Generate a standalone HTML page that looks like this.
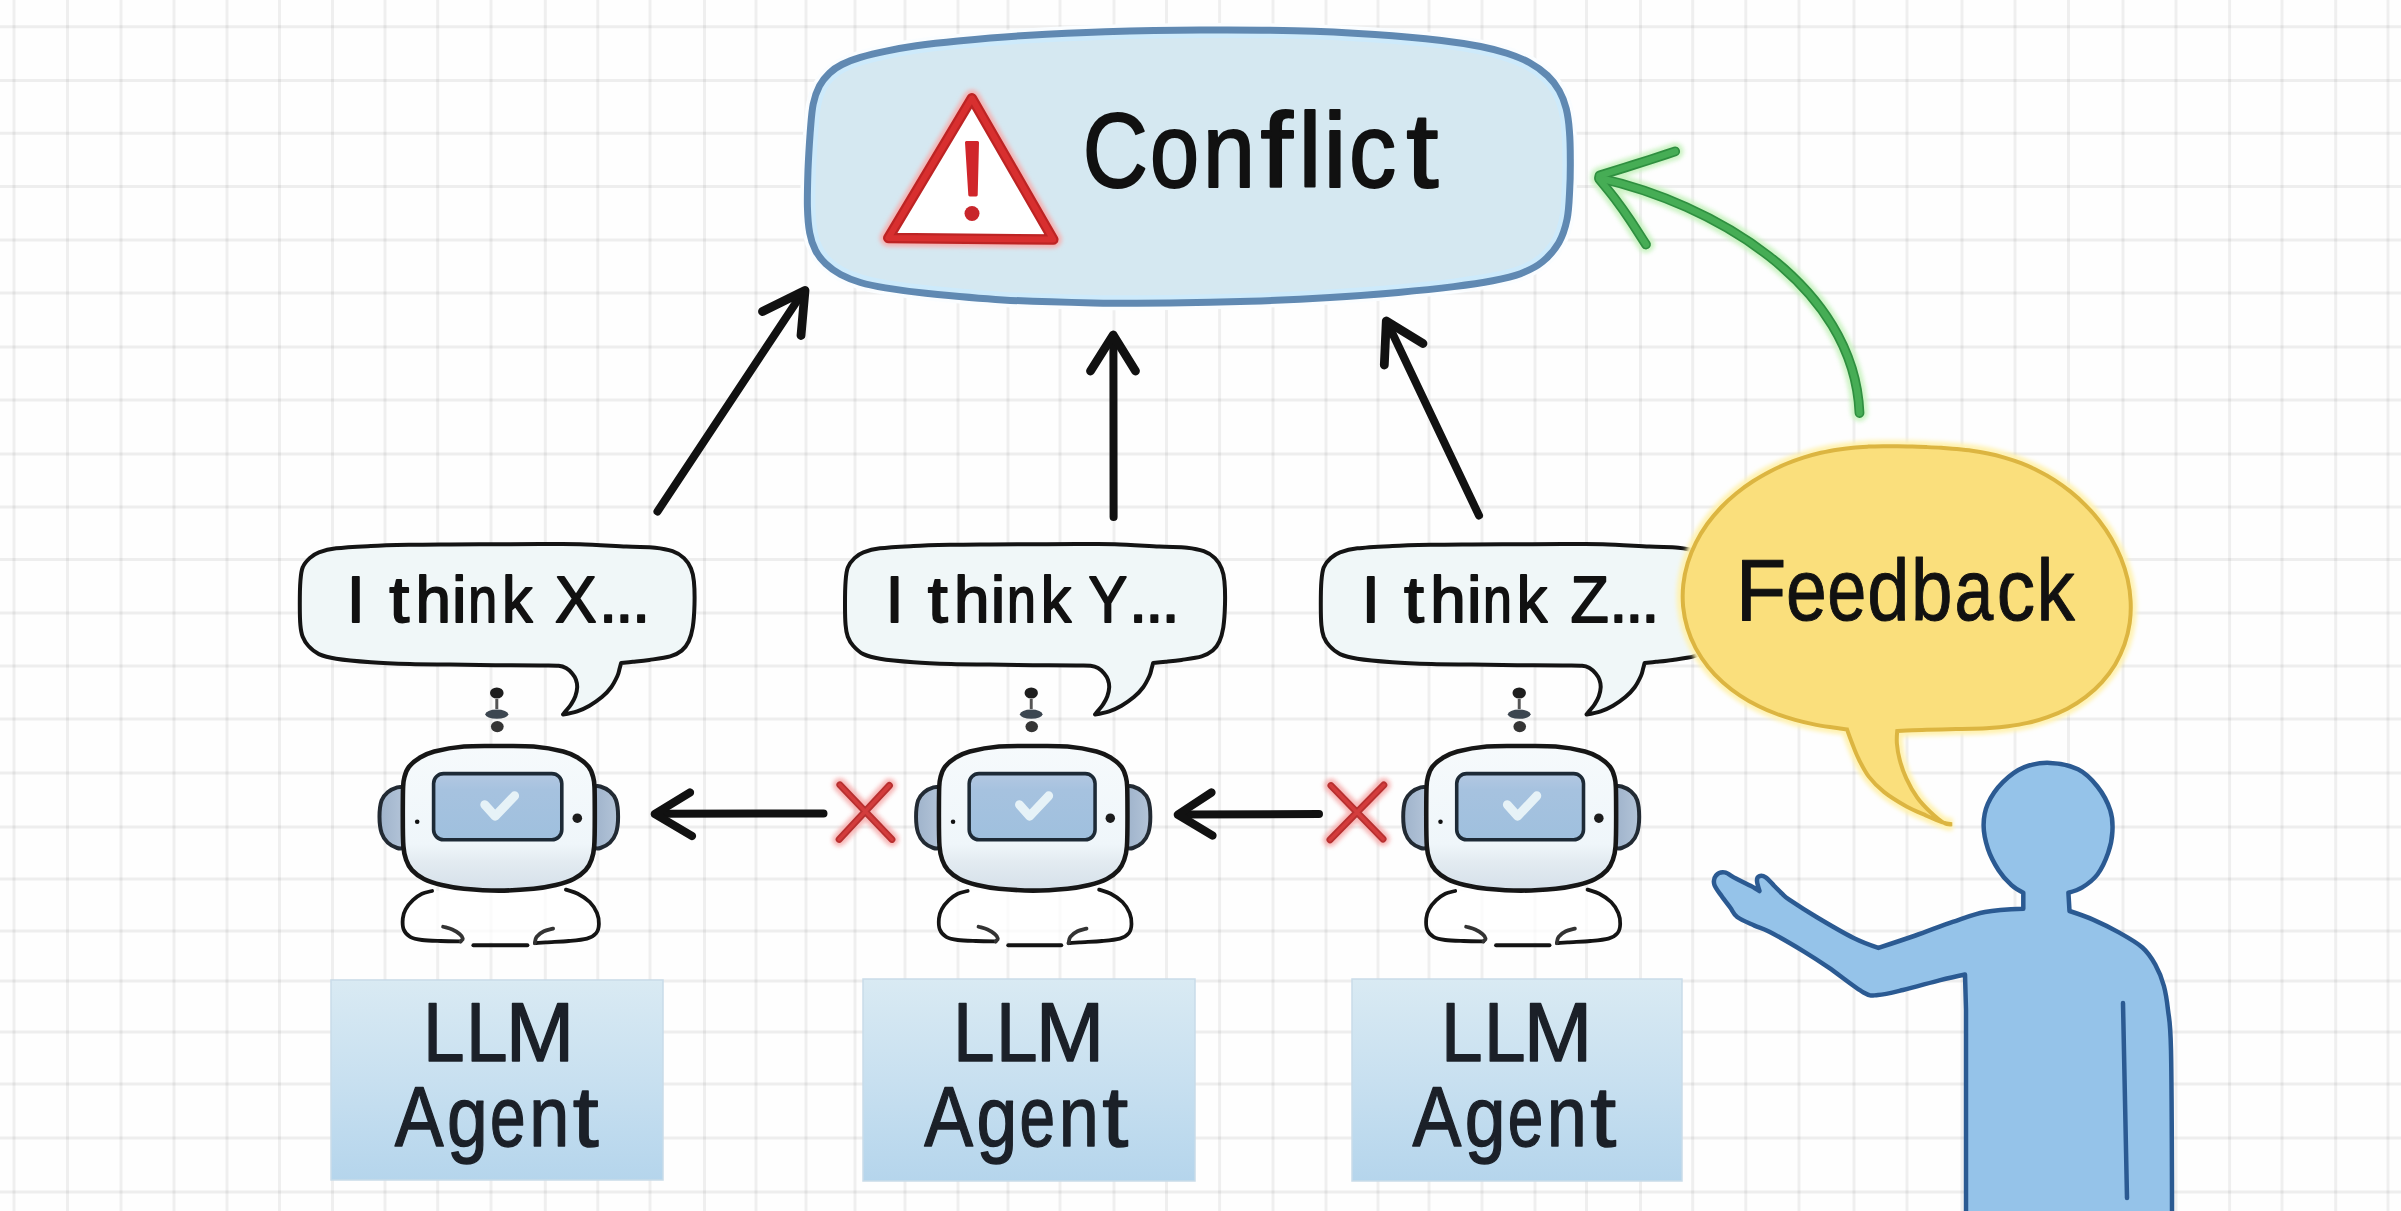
<!DOCTYPE html>
<html><head><meta charset="utf-8"><style>
html,body{margin:0;padding:0;background:#fefefe;overflow:hidden;}
svg{display:block;}
text{font-family:"Liberation Sans",sans-serif;}
</style></head><body>
<svg width="2401" height="1211" viewBox="0 0 2401 1211" xmlns="http://www.w3.org/2000/svg">
<defs>
<linearGradient id="headg" x1="0" y1="0" x2="0" y2="1"><stop offset="0" stop-color="#f6fafc"/><stop offset="0.68" stop-color="#eff6fa"/><stop offset="0.8" stop-color="#e3ebf1"/><stop offset="1" stop-color="#d5e0e9"/></linearGradient>
<linearGradient id="screeng" x1="0" y1="0" x2="0" y2="1"><stop offset="0" stop-color="#b3c8e2"/><stop offset="0.25" stop-color="#a6c2df"/><stop offset="1" stop-color="#9fc0de"/></linearGradient>
<linearGradient id="earg" x1="0" y1="0" x2="1" y2="0"><stop offset="0" stop-color="#9fb3cb"/><stop offset="1" stop-color="#b3c4d8"/></linearGradient>
<linearGradient id="boxg" x1="0" y1="0" x2="0" y2="1"><stop offset="0" stop-color="#d9eaf3"/><stop offset="0.5" stop-color="#c8e0f0"/><stop offset="1" stop-color="#b5d5ec"/></linearGradient>
<clipPath id="cbclip"><path d="M810.2 132.3C811.1 121.4 811.6 111.8 813.2 104.1C814.7 96.4 816.8 91.1 819.5 85.9C822.2 80.8 825.8 76.6 829.5 73.1C833.2 69.5 836.7 67.1 841.9 64.5C847 61.9 853 59.6 860.4 57.4C867.8 55.2 876.9 53 886.2 51.1C895.5 49.1 904.2 47.4 916.2 45.7C928.1 44 939.9 42.6 958 40.9C976.1 39.2 1000.5 37 1025 35.5C1049.5 34 1075.8 32.6 1105 31.7C1134.2 30.8 1168.3 30.1 1200 30C1231.7 29.8 1265.8 29.9 1295 30.7C1324.2 31.4 1350.6 32.8 1375 34.4C1399.4 36 1423.8 38.3 1441.4 40.4C1459 42.4 1469.7 44.4 1480.6 46.5C1491.6 48.7 1498.7 50.6 1506.9 53.3C1515.1 56 1522.9 59 1529.7 62.7C1536.5 66.4 1542.6 70.9 1547.5 75.6C1552.4 80.2 1556.1 85.1 1559.2 90.6C1562.3 96.1 1564.5 102 1566.2 108.7C1567.9 115.5 1568.8 122.5 1569.4 130.9C1570.1 139.2 1570.3 148.7 1570.3 158.8C1570.4 168.9 1570.2 181.4 1569.6 191.5C1569.1 201.6 1568.8 211.1 1567 219.6C1565.2 228.2 1562.9 235.7 1558.8 242.7C1554.7 249.8 1548.7 256.7 1542.3 261.9C1536 267.1 1528.8 270.5 1520.5 273.7C1512.2 276.8 1503.8 278.5 1492.7 280.7C1481.6 282.8 1469.5 284.6 1453.8 286.6C1438.1 288.5 1418.9 290.5 1398.3 292.4C1377.7 294.2 1354.7 296 1330 297.5C1305.3 299 1276.7 300.4 1250 301.3C1223.3 302.2 1196.1 302.8 1170 303.1C1143.9 303.3 1121.2 303.4 1093.3 302.9C1065.5 302.4 1030.9 301.5 1003 299.9C975.1 298.3 945.4 295.3 925.8 293.3C906.2 291.3 896.3 289.7 885.4 287.9C874.5 286.1 867.9 284.7 860.4 282.5C852.9 280.2 846.4 277.6 840.6 274.5C834.8 271.4 829.9 267.8 825.7 263.8C821.5 259.8 818.3 255.7 815.6 250.6C812.9 245.4 811 240.2 809.7 232.9C808.3 225.6 807.7 217.2 807.4 206.7C807.2 196.2 807.6 182.3 808 169.9C808.5 157.5 809.4 143.3 810.2 132.3Z"/></clipPath>
<filter id="blur3" x="-20%" y="-20%" width="140%" height="140%"><feGaussianBlur stdDeviation="3"/></filter>
<filter id="blur2" x="-20%" y="-20%" width="140%" height="140%"><feGaussianBlur stdDeviation="2"/></filter>
</defs>
<rect width="2401" height="1211" fill="#fefefe"/>
<path d="M14 0V1211M67.5 0V1211M121 0V1211M174 0V1211M227 0V1211M279.5 0V1211M332.5 0V1211M385 0V1211M437.7 0V1211M491 0V1211M545.3 0V1211M597.8 0V1211M650 0V1211M704.5 0V1211M756 0V1211M806 0V1211M855 0V1211M905 0V1211M958 0V1211M1008 0V1211M1060 0V1211M1114 0V1211M1166.5 0V1211M1219.6 0V1211M1273 0V1211M1326 0V1211M1378 0V1211M1429 0V1211M1482 0V1211M1535 0V1211M1586.5 0V1211M1640.5 0V1211M1692.7 0V1211M1745.8 0V1211M1799 0V1211M1854 0V1211M1907 0V1211M1962 0V1211M2015 0V1211M2068.5 0V1211M2123 0V1211M2176 0V1211M2229.6 0V1211M2282 0V1211M2335.7 0V1211M2388 0V1211" stroke="#000" stroke-opacity="0.058" stroke-width="3" fill="none"/>
<path d="M0 26.7H2401M0 80.5H2401M0 133.3H2401M0 186.5H2401M0 240H2401M0 293H2401M0 347H2401M0 400H2401M0 454H2401M0 507H2401M0 559.5H2401M0 613H2401M0 666H2401M0 719H2401M0 773H2401M0 827H2401M0 879H2401M0 931H2401M0 981H2401M0 1032H2401M0 1084H2401M0 1138H2401M0 1192H2401" stroke="#000" stroke-opacity="0.062" stroke-width="3" fill="none"/>

<!-- Conflict box -->
<path d="M810.2 132.3C811.1 121.4 811.6 111.8 813.2 104.1C814.7 96.4 816.8 91.1 819.5 85.9C822.2 80.8 825.8 76.6 829.5 73.1C833.2 69.5 836.7 67.1 841.9 64.5C847 61.9 853 59.6 860.4 57.4C867.8 55.2 876.9 53 886.2 51.1C895.5 49.1 904.2 47.4 916.2 45.7C928.1 44 939.9 42.6 958 40.9C976.1 39.2 1000.5 37 1025 35.5C1049.5 34 1075.8 32.6 1105 31.7C1134.2 30.8 1168.3 30.1 1200 30C1231.7 29.8 1265.8 29.9 1295 30.7C1324.2 31.4 1350.6 32.8 1375 34.4C1399.4 36 1423.8 38.3 1441.4 40.4C1459 42.4 1469.7 44.4 1480.6 46.5C1491.6 48.7 1498.7 50.6 1506.9 53.3C1515.1 56 1522.9 59 1529.7 62.7C1536.5 66.4 1542.6 70.9 1547.5 75.6C1552.4 80.2 1556.1 85.1 1559.2 90.6C1562.3 96.1 1564.5 102 1566.2 108.7C1567.9 115.5 1568.8 122.5 1569.4 130.9C1570.1 139.2 1570.3 148.7 1570.3 158.8C1570.4 168.9 1570.2 181.4 1569.6 191.5C1569.1 201.6 1568.8 211.1 1567 219.6C1565.2 228.2 1562.9 235.7 1558.8 242.7C1554.7 249.8 1548.7 256.7 1542.3 261.9C1536 267.1 1528.8 270.5 1520.5 273.7C1512.2 276.8 1503.8 278.5 1492.7 280.7C1481.6 282.8 1469.5 284.6 1453.8 286.6C1438.1 288.5 1418.9 290.5 1398.3 292.4C1377.7 294.2 1354.7 296 1330 297.5C1305.3 299 1276.7 300.4 1250 301.3C1223.3 302.2 1196.1 302.8 1170 303.1C1143.9 303.3 1121.2 303.4 1093.3 302.9C1065.5 302.4 1030.9 301.5 1003 299.9C975.1 298.3 945.4 295.3 925.8 293.3C906.2 291.3 896.3 289.7 885.4 287.9C874.5 286.1 867.9 284.7 860.4 282.5C852.9 280.2 846.4 277.6 840.6 274.5C834.8 271.4 829.9 267.8 825.7 263.8C821.5 259.8 818.3 255.7 815.6 250.6C812.9 245.4 811 240.2 809.7 232.9C808.3 225.6 807.7 217.2 807.4 206.7C807.2 196.2 807.6 182.3 808 169.9C808.5 157.5 809.4 143.3 810.2 132.3Z" fill="#d5e8f1" stroke="#fafdff" stroke-width="14"/>
<path d="M810.2 132.3C811.1 121.4 811.6 111.8 813.2 104.1C814.7 96.4 816.8 91.1 819.5 85.9C822.2 80.8 825.8 76.6 829.5 73.1C833.2 69.5 836.7 67.1 841.9 64.5C847 61.9 853 59.6 860.4 57.4C867.8 55.2 876.9 53 886.2 51.1C895.5 49.1 904.2 47.4 916.2 45.7C928.1 44 939.9 42.6 958 40.9C976.1 39.2 1000.5 37 1025 35.5C1049.5 34 1075.8 32.6 1105 31.7C1134.2 30.8 1168.3 30.1 1200 30C1231.7 29.8 1265.8 29.9 1295 30.7C1324.2 31.4 1350.6 32.8 1375 34.4C1399.4 36 1423.8 38.3 1441.4 40.4C1459 42.4 1469.7 44.4 1480.6 46.5C1491.6 48.7 1498.7 50.6 1506.9 53.3C1515.1 56 1522.9 59 1529.7 62.7C1536.5 66.4 1542.6 70.9 1547.5 75.6C1552.4 80.2 1556.1 85.1 1559.2 90.6C1562.3 96.1 1564.5 102 1566.2 108.7C1567.9 115.5 1568.8 122.5 1569.4 130.9C1570.1 139.2 1570.3 148.7 1570.3 158.8C1570.4 168.9 1570.2 181.4 1569.6 191.5C1569.1 201.6 1568.8 211.1 1567 219.6C1565.2 228.2 1562.9 235.7 1558.8 242.7C1554.7 249.8 1548.7 256.7 1542.3 261.9C1536 267.1 1528.8 270.5 1520.5 273.7C1512.2 276.8 1503.8 278.5 1492.7 280.7C1481.6 282.8 1469.5 284.6 1453.8 286.6C1438.1 288.5 1418.9 290.5 1398.3 292.4C1377.7 294.2 1354.7 296 1330 297.5C1305.3 299 1276.7 300.4 1250 301.3C1223.3 302.2 1196.1 302.8 1170 303.1C1143.9 303.3 1121.2 303.4 1093.3 302.9C1065.5 302.4 1030.9 301.5 1003 299.9C975.1 298.3 945.4 295.3 925.8 293.3C906.2 291.3 896.3 289.7 885.4 287.9C874.5 286.1 867.9 284.7 860.4 282.5C852.9 280.2 846.4 277.6 840.6 274.5C834.8 271.4 829.9 267.8 825.7 263.8C821.5 259.8 818.3 255.7 815.6 250.6C812.9 245.4 811 240.2 809.7 232.9C808.3 225.6 807.7 217.2 807.4 206.7C807.2 196.2 807.6 182.3 808 169.9C808.5 157.5 809.4 143.3 810.2 132.3Z" fill="none" stroke="#cdeafb" stroke-width="16" clip-path="url(#cbclip)"/>
<path d="M810.2 132.3C811.1 121.4 811.6 111.8 813.2 104.1C814.7 96.4 816.8 91.1 819.5 85.9C822.2 80.8 825.8 76.6 829.5 73.1C833.2 69.5 836.7 67.1 841.9 64.5C847 61.9 853 59.6 860.4 57.4C867.8 55.2 876.9 53 886.2 51.1C895.5 49.1 904.2 47.4 916.2 45.7C928.1 44 939.9 42.6 958 40.9C976.1 39.2 1000.5 37 1025 35.5C1049.5 34 1075.8 32.6 1105 31.7C1134.2 30.8 1168.3 30.1 1200 30C1231.7 29.8 1265.8 29.9 1295 30.7C1324.2 31.4 1350.6 32.8 1375 34.4C1399.4 36 1423.8 38.3 1441.4 40.4C1459 42.4 1469.7 44.4 1480.6 46.5C1491.6 48.7 1498.7 50.6 1506.9 53.3C1515.1 56 1522.9 59 1529.7 62.7C1536.5 66.4 1542.6 70.9 1547.5 75.6C1552.4 80.2 1556.1 85.1 1559.2 90.6C1562.3 96.1 1564.5 102 1566.2 108.7C1567.9 115.5 1568.8 122.5 1569.4 130.9C1570.1 139.2 1570.3 148.7 1570.3 158.8C1570.4 168.9 1570.2 181.4 1569.6 191.5C1569.1 201.6 1568.8 211.1 1567 219.6C1565.2 228.2 1562.9 235.7 1558.8 242.7C1554.7 249.8 1548.7 256.7 1542.3 261.9C1536 267.1 1528.8 270.5 1520.5 273.7C1512.2 276.8 1503.8 278.5 1492.7 280.7C1481.6 282.8 1469.5 284.6 1453.8 286.6C1438.1 288.5 1418.9 290.5 1398.3 292.4C1377.7 294.2 1354.7 296 1330 297.5C1305.3 299 1276.7 300.4 1250 301.3C1223.3 302.2 1196.1 302.8 1170 303.1C1143.9 303.3 1121.2 303.4 1093.3 302.9C1065.5 302.4 1030.9 301.5 1003 299.9C975.1 298.3 945.4 295.3 925.8 293.3C906.2 291.3 896.3 289.7 885.4 287.9C874.5 286.1 867.9 284.7 860.4 282.5C852.9 280.2 846.4 277.6 840.6 274.5C834.8 271.4 829.9 267.8 825.7 263.8C821.5 259.8 818.3 255.7 815.6 250.6C812.9 245.4 811 240.2 809.7 232.9C808.3 225.6 807.7 217.2 807.4 206.7C807.2 196.2 807.6 182.3 808 169.9C808.5 157.5 809.4 143.3 810.2 132.3Z" fill="none" stroke="#6089b2" stroke-width="7"/>
<path d="M971.9 98.3 L888.3 238 L1053.3 239.5 Z" fill="none" stroke="#f6b0b0" stroke-width="17" stroke-linejoin="round" filter="url(#blur2)"/>
<path d="M971.9 98.3 L888.3 238 L1053.3 239.5 Z" fill="#fff" stroke="#bd2424" stroke-width="10.5" stroke-linejoin="round"/>
<path d="M971.9 98.3 L888.3 238 L1053.3 239.5 Z" fill="none" stroke="#d82f2f" stroke-width="6" stroke-linejoin="round"/>
<path d="M966.5 142.5 L977.5 142.5 L976.2 195 L969.8 195 Z" fill="#d0262b" stroke="#d0262b" stroke-width="3" stroke-linejoin="round"/>
<circle cx="972" cy="213.5" r="7.5" fill="#c8262b"/>

<!-- up arrows -->
<g stroke="#111" stroke-width="8" stroke-linecap="round" stroke-linejoin="round" fill="none">
<path d="M657.5 511.5 L803 292"/><path d="M762.5 311.5 L805 290.5 L801 335.5" stroke-width="8.8"/>
<path d="M1113.6 517 L1113.4 338"/><path d="M1090.5 371 L1113.2 335 L1135.5 371" stroke-width="8.8"/>
<path d="M1479 515.5 L1387.5 323"/><path d="M1423 343.5 L1386.3 321 L1384.3 365" stroke-width="8.8"/>
</g>

<!-- bubbles -->
<g fill="#f0f7f8" stroke="#141414" stroke-width="4" stroke-linejoin="round">
<path d="M318.9 552.3C323.3 550.7 327.5 549.3 336.2 548.3C344.9 547.2 358.6 546.6 370.9 546C383.2 545.4 396.8 545.1 410 544.8C423.2 544.5 435.8 544.5 450 544.4C464.2 544.3 480 544.2 495 544.2C510 544.2 525.8 544.1 540 544.1C554.2 544.1 565.6 543.8 580 544.2C594.4 544.6 613.7 546 626.2 546.6C638.7 547.2 647.4 546.9 655.1 547.7C662.8 548.5 667.7 549.5 672.5 551.2C677.3 552.9 680.9 555.2 684 558.1C687.1 561 689.4 564.6 691 568.5C692.6 572.4 693.3 575.2 693.9 581.2C694.5 587.2 694.7 596.7 694.5 604.4C694.3 612.1 693.7 621.3 692.7 627.5C691.7 633.7 690.5 637.5 688.7 641.4C686.9 645.2 684.8 648.1 681.7 650.6C678.6 653.1 675.6 654.9 670.2 656.4C664.8 657.9 655.6 659 649.4 659.9C643.2 660.8 637.6 661.3 632.9 661.8C628.2 662.3 621.1 663 621.1 663C621.1 663 620.1 666.8 619.5 669C618.9 671.2 618.8 673 617.4 676C616 679 613.8 683.7 611.2 687.2C608.6 690.7 605.5 694 601.9 697.1C598.3 700.2 593.6 703.3 589.5 705.7C585.4 708.1 581.6 709.8 577.2 711.3C572.8 712.8 563 714.5 563 714.5C563 714.5 564.7 712.4 566 710.7C567.3 709 569.5 706.9 571 704.5C572.5 702.1 574.3 699.3 575.3 696.4C576.3 693.5 577.1 690 577.2 687.2C577.3 684.4 576.7 682 575.9 679.7C575.1 677.4 573.9 675.5 572.2 673.5C570.6 671.5 568.3 669.3 566 668C563.7 666.7 562.9 666.2 558.6 665.8C554.3 665.4 550.6 665.6 540 665.5C529.4 665.4 510 665.4 495 665.2C480 665.1 464.2 664.8 450 664.6C435.8 664.4 423.2 664.4 410 664C396.8 663.6 383.2 663.1 370.9 662.2C358.6 661.3 344.9 660.1 336.2 658.7C327.5 657.4 323.5 656.2 318.9 654.1C314.3 652 311.2 648.9 308.5 646C305.8 643.1 304.1 640.2 302.7 636.7C301.3 633.2 300.9 630.6 300.4 625.2C299.9 619.8 299.8 611.7 299.8 604.4C299.8 597.1 299.9 587.4 300.4 581.2C300.9 575 301.1 571.2 302.7 567.4C304.2 563.5 307 560.6 309.7 558.1C312.4 555.6 314.5 553.9 318.9 552.3Z"/><path d="M863.4 552.3C867.6 550.7 871.7 549.3 880 548.3C888.4 547.2 901.6 546.6 913.5 546C925.3 545.4 938.4 545.1 951.1 544.8C963.8 544.5 976 544.5 989.6 544.4C1003.2 544.3 1018.5 544.2 1032.9 544.2C1047.4 544.2 1062.6 544.1 1076.3 544.1C1089.9 544.1 1100.9 543.8 1114.8 544.2C1128.6 544.6 1147.2 546 1159.2 546.6C1171.3 547.2 1179.6 546.9 1187.1 547.7C1194.5 548.5 1199.2 549.5 1203.8 551.2C1208.5 552.9 1211.9 555.2 1214.9 558.1C1217.9 561 1220 564.6 1221.6 568.5C1223.2 572.4 1223.9 575.2 1224.4 581.2C1225 587.2 1225.2 596.7 1225 604.4C1224.8 612.1 1224.2 621.3 1223.3 627.5C1222.3 633.7 1221.2 637.5 1219.4 641.4C1217.7 645.2 1215.6 648.1 1212.7 650.6C1209.7 653.1 1206.8 654.9 1201.6 656.4C1196.4 657.9 1187.6 659 1181.6 659.9C1175.6 660.8 1170.4 661.3 1165.7 661.8C1160.9 662.3 1153.1 663 1153.1 663C1153.1 663 1152.1 666.8 1151.5 669C1150.9 671.2 1150.8 673 1149.4 676C1148 679 1145.8 683.7 1143.2 687.2C1140.6 690.7 1137.5 694 1133.9 697.1C1130.3 700.2 1125.6 703.3 1121.5 705.7C1117.4 708.1 1113.6 709.8 1109.2 711.3C1104.8 712.8 1095 714.5 1095 714.5C1095 714.5 1096.7 712.4 1098 710.7C1099.3 709 1101.5 706.9 1103 704.5C1104.5 702.1 1106.3 699.3 1107.3 696.4C1108.3 693.5 1109.1 690 1109.2 687.2C1109.3 684.4 1108.7 682 1107.9 679.7C1107.1 677.4 1105.9 675.5 1104.2 673.5C1102.5 671.5 1100.3 669.3 1098 668C1095.7 666.7 1094.2 666.2 1090.6 665.8C1087 665.4 1085.9 665.6 1076.3 665.5C1066.6 665.4 1047.4 665.4 1032.9 665.2C1018.5 665.1 1003.2 664.8 989.6 664.6C976 664.4 963.8 664.4 951.1 664C938.4 663.6 925.3 663.1 913.5 662.2C901.6 661.3 888.4 660.1 880 658.7C871.7 657.4 867.8 656.2 863.4 654.1C858.9 652 856 648.9 853.4 646C850.8 643.1 849.1 640.2 847.8 636.7C846.5 633.2 846 630.6 845.6 625.2C845.1 619.8 845 611.7 845 604.4C845 597.1 845.1 587.4 845.6 581.2C846 575 846.3 571.2 847.8 567.4C849.3 563.5 851.9 560.6 854.5 558.1C857.1 555.6 859.1 553.9 863.4 552.3Z"/><path d="M1340 552.3C1344.5 550.7 1348.7 549.3 1357.4 548.3C1366.2 547.2 1380 546.6 1392.4 546C1404.7 545.4 1418.4 545.1 1431.7 544.8C1445 544.5 1457.7 544.5 1472 544.4C1486.2 544.3 1502.1 544.2 1517.2 544.2C1532.3 544.2 1548.3 544.1 1562.5 544.1C1576.8 544.1 1588.3 543.8 1602.8 544.2C1617.2 544.6 1636.7 546 1649.3 546.6C1661.9 547.2 1670.6 546.9 1678.4 547.7C1686.1 548.5 1691 549.5 1695.9 551.2C1700.7 552.9 1704.3 555.2 1707.4 558.1C1710.5 561 1712.8 564.6 1714.5 568.5C1716.1 572.4 1716.8 575.2 1717.4 581.2C1718 587.2 1718.2 596.7 1718 604.4C1717.8 612.1 1717.2 621.3 1716.2 627.5C1715.2 633.7 1714 637.5 1712.2 641.4C1710.3 645.2 1708.2 648.1 1705.1 650.6C1702 653.1 1699 654.9 1693.5 656.4C1688.1 657.9 1678.9 659 1672.6 659.9C1666.4 660.8 1660.7 661.3 1656 661.8C1651.3 662.3 1644.6 663 1644.6 663C1644.6 663 1643.6 666.8 1643 669C1642.4 671.2 1642.3 673 1640.9 676C1639.5 679 1637.3 683.7 1634.7 687.2C1632.1 690.7 1629 694 1625.4 697.1C1621.8 700.2 1617.1 703.3 1613 705.7C1608.9 708.1 1605.1 709.8 1600.7 711.3C1596.3 712.8 1586.5 714.5 1586.5 714.5C1586.5 714.5 1588.2 712.4 1589.5 710.7C1590.8 709 1593 706.9 1594.5 704.5C1596 702.1 1597.8 699.3 1598.8 696.4C1599.8 693.5 1600.6 690 1600.7 687.2C1600.8 684.4 1600.2 682 1599.4 679.7C1598.6 677.4 1597.4 675.5 1595.7 673.5C1594 671.5 1591.8 669.3 1589.5 668C1587.2 666.7 1586.6 666.2 1582.1 665.8C1577.6 665.4 1573.3 665.6 1562.5 665.5C1551.7 665.4 1532.3 665.4 1517.2 665.2C1502.1 665.1 1486.2 664.8 1472 664.6C1457.7 664.4 1445 664.4 1431.7 664C1418.4 663.6 1404.7 663.1 1392.4 662.2C1380 661.3 1366.2 660.1 1357.4 658.7C1348.7 657.4 1344.7 656.2 1340 654.1C1335.4 652 1332.3 648.9 1329.6 646C1326.8 643.1 1325.1 640.2 1323.7 636.7C1322.4 633.2 1321.9 630.6 1321.4 625.2C1320.9 619.8 1320.8 611.7 1320.8 604.4C1320.8 597.1 1320.9 587.4 1321.4 581.2C1321.9 575 1322.2 571.2 1323.7 567.4C1325.3 563.5 1328 560.6 1330.8 558.1C1333.5 555.6 1335.6 553.9 1340 552.3Z"/>
</g>

<!-- robots -->
<g transform="translate(498.8 0)">
<path d="M-66.7 891C-90.7 891.7 -73.6 892.2 -76.8 893.7C-80 895.2 -83.2 897.6 -85.9 900.2C-88.6 902.8 -91.5 906.2 -93.2 909.3C-94.9 912.3 -95.7 915.1 -96 918.5C-96.3 921.9 -96.3 926.5 -95.1 929.5C-93.9 932.5 -91.7 935 -88.6 936.8C-85.6 938.5 -81.8 939.3 -76.8 940C-71.8 940.7 -64.8 940.8 -58.4 941C-52 941.2 -38.2 941.4 -38.2 941.4C-38.2 941.4 36 943.2 36 943.2C36 943.2 41.3 942.7 47 942.3C52.6 941.9 63 941.6 69.9 941C76.8 940.4 83.6 939.9 88.2 938.6C92.8 937.3 95.4 935.5 97.4 933.1C99.4 930.7 100 927.4 100.1 924C100.2 920.6 99.7 916.7 98.2 913C96.7 909.3 94.1 905.2 90.9 902C87.7 898.8 83 895.8 79 893.7C75 891.6 91.4 890.1 67.1 889.6C42.8 889.1 -42.7 890.3 -66.7 891Z" fill="#fff" fill-opacity="0.75"/>
<path d="M-94.8 787.4C-94.8 787.4 -98.9 786.6 -101.6 787.4C-104.3 788.2 -108.5 790 -111.1 792.2C-113.7 794.4 -115.8 796.3 -117.2 800.4C-118.6 804.5 -119.3 811.3 -119.3 816.7C-119.3 822.1 -118.6 828.7 -117.2 833C-115.8 837.3 -113.7 840.1 -111.1 842.6C-108.5 845.1 -104.3 847.1 -101.6 848C-98.9 848.9 -94.8 848 -94.8 848C-94.8 848 -94.8 787.4 -94.8 787.4Z" fill="url(#earg)" stroke="#222a33" stroke-width="4" stroke-linejoin="round"/>
<path d="M94.8 786.5C94.8 786.5 98.9 785.7 101.6 786.5C104.3 787.3 108.5 789.2 111.1 791.5C113.7 793.8 115.8 795.8 117.2 800C118.6 804.2 119.3 811.2 119.3 816.7C119.3 822.2 118.6 828.7 117.2 833C115.8 837.3 113.7 840.1 111.1 842.6C108.5 845.1 104.3 847.1 101.6 848C98.9 848.9 94.8 848 94.8 848C94.8 848 94.8 786.5 94.8 786.5Z" fill="url(#earg)" stroke="#222a33" stroke-width="4" stroke-linejoin="round"/>
<path d="M0 746C-11.6 746 -24.1 745.6 -34.8 746.5C-45.6 747.4 -57.1 749.6 -64.5 751.5C-71.9 753.4 -75.2 755.4 -79.4 757.9C-83.6 760.4 -87.3 763.7 -89.8 766.8C-92.3 769.9 -93.2 773.1 -94.2 776.5C-95.2 779.9 -95.4 780.2 -95.7 786.9C-96 793.6 -96 806.7 -96 816.6C-96 826.5 -96 839.1 -95.4 846.3C-94.9 853.5 -94.1 855.7 -92.7 859.7C-91.3 863.7 -89.8 866.9 -86.8 870.1C-83.8 873.3 -79.9 876.5 -74.9 879C-70 881.5 -63.8 883.4 -57.1 885C-50.4 886.6 -44.3 887.8 -34.8 888.7C-25.3 889.6 -11.6 890.6 0 890.6C11.6 890.6 25.3 889.6 34.8 888.7C44.3 887.8 50.4 886.6 57.1 885C63.8 883.4 70 881.5 74.9 879C79.9 876.5 83.8 873.3 86.8 870.1C89.8 866.9 91.3 863.7 92.7 859.7C94.1 855.7 94.9 853.5 95.4 846.3C96 839.1 96 826.5 96 816.6C96 806.7 96 793.6 95.7 786.9C95.4 780.2 95.2 779.9 94.2 776.5C93.2 773.1 92.3 769.9 89.8 766.8C87.3 763.7 83.6 760.4 79.4 757.9C75.2 755.4 71.9 753.4 64.5 751.5C57.1 749.6 45.6 747.4 34.8 746.5C24.1 745.6 11.6 746 0 746Z" fill="url(#headg)" stroke="#161616" stroke-width="4.6"/>
<rect x="-65.2" y="773.6" width="128.2" height="66.2" rx="10" fill="url(#screeng)" stroke="#1d2a36" stroke-width="3.6"/>
<path d="M-14 804.7 L-3.6 816.2 L15.8 795.8" fill="none" stroke="#e6f2f7" stroke-width="9" stroke-linecap="round" stroke-linejoin="round"/>
<circle cx="-81.6" cy="821.8" r="2.3" fill="#111"/>
<circle cx="78.5" cy="818.2" r="4.8" fill="#1c1c1c"/>
<g fill="none" stroke="#141414" stroke-width="3.8" stroke-linecap="round" stroke-linejoin="round">
<path d="M-66.7 891C-70.1 891.9 -73.6 892.2 -76.8 893.7C-80 895.2 -83.2 897.6 -85.9 900.2C-88.6 902.8 -91.5 906.2 -93.2 909.3C-94.9 912.3 -95.7 915.1 -96 918.5C-96.3 921.9 -96.3 926.5 -95.1 929.5C-93.9 932.5 -91.7 935 -88.6 936.8C-85.6 938.5 -81.8 939.3 -76.8 940C-71.8 940.7 -64.8 940.8 -58.4 941C-52 941.2 -44.9 941.3 -38.2 941.4"/><path d="M67.1 889.6C71.1 891 75 891.6 79 893.7C83 895.8 87.7 898.8 90.9 902C94.1 905.2 96.7 909.3 98.2 913C99.7 916.7 100.2 920.6 100.1 924C100 927.4 99.4 930.7 97.4 933.1C95.4 935.5 92.8 937.3 88.2 938.6C83.6 939.9 76.8 940.4 69.9 941C63 941.6 52.6 941.9 47 942.3C41.3 942.7 39.7 942.9 36 943.2"/>
<path d="M-38.2 941.4C-37.5 940.5 -35.8 939.8 -36 938.6C-36.2 937.4 -37.4 935.5 -39.2 934C-40.9 932.5 -43.8 930.7 -46.5 929.5C-49.2 928.3 -52.6 927.6 -55.7 926.7" stroke="#333"/><path d="M36 943.2C36.6 941.1 36.3 938.8 37.8 936.8C39.3 934.8 42.3 932.7 45.1 931.3C47.8 929.9 51.2 929.5 54.3 928.6" stroke="#333"/>
<path d="M-25.4 945.3 H28.6" stroke-width="4"/>
</g>
<path d="M-2 699 V709" stroke="#555" stroke-width="3"/>
<ellipse cx="-2" cy="693" rx="6.8" ry="5.6" fill="#1e1e1e"/>
<ellipse cx="-2" cy="714.2" rx="11.5" ry="4.6" fill="#3c4650"/>
<ellipse cx="-1.5" cy="726.6" rx="6.4" ry="5.6" fill="#353535"/>
</g>
<g transform="translate(1033.2 0) scale(0.982 1)">
<path d="M-66.7 891C-90.7 891.7 -73.6 892.2 -76.8 893.7C-80 895.2 -83.2 897.6 -85.9 900.2C-88.6 902.8 -91.5 906.2 -93.2 909.3C-94.9 912.3 -95.7 915.1 -96 918.5C-96.3 921.9 -96.3 926.5 -95.1 929.5C-93.9 932.5 -91.7 935 -88.6 936.8C-85.6 938.5 -81.8 939.3 -76.8 940C-71.8 940.7 -64.8 940.8 -58.4 941C-52 941.2 -38.2 941.4 -38.2 941.4C-38.2 941.4 36 943.2 36 943.2C36 943.2 41.3 942.7 47 942.3C52.6 941.9 63 941.6 69.9 941C76.8 940.4 83.6 939.9 88.2 938.6C92.8 937.3 95.4 935.5 97.4 933.1C99.4 930.7 100 927.4 100.1 924C100.2 920.6 99.7 916.7 98.2 913C96.7 909.3 94.1 905.2 90.9 902C87.7 898.8 83 895.8 79 893.7C75 891.6 91.4 890.1 67.1 889.6C42.8 889.1 -42.7 890.3 -66.7 891Z" fill="#fff" fill-opacity="0.75"/>
<path d="M-94.8 787.4C-94.8 787.4 -98.9 786.6 -101.6 787.4C-104.3 788.2 -108.5 790 -111.1 792.2C-113.7 794.4 -115.8 796.3 -117.2 800.4C-118.6 804.5 -119.3 811.3 -119.3 816.7C-119.3 822.1 -118.6 828.7 -117.2 833C-115.8 837.3 -113.7 840.1 -111.1 842.6C-108.5 845.1 -104.3 847.1 -101.6 848C-98.9 848.9 -94.8 848 -94.8 848C-94.8 848 -94.8 787.4 -94.8 787.4Z" fill="url(#earg)" stroke="#222a33" stroke-width="4" stroke-linejoin="round"/>
<path d="M94.8 786.5C94.8 786.5 98.9 785.7 101.6 786.5C104.3 787.3 108.5 789.2 111.1 791.5C113.7 793.8 115.8 795.8 117.2 800C118.6 804.2 119.3 811.2 119.3 816.7C119.3 822.2 118.6 828.7 117.2 833C115.8 837.3 113.7 840.1 111.1 842.6C108.5 845.1 104.3 847.1 101.6 848C98.9 848.9 94.8 848 94.8 848C94.8 848 94.8 786.5 94.8 786.5Z" fill="url(#earg)" stroke="#222a33" stroke-width="4" stroke-linejoin="round"/>
<path d="M0 746C-11.6 746 -24.1 745.6 -34.8 746.5C-45.6 747.4 -57.1 749.6 -64.5 751.5C-71.9 753.4 -75.2 755.4 -79.4 757.9C-83.6 760.4 -87.3 763.7 -89.8 766.8C-92.3 769.9 -93.2 773.1 -94.2 776.5C-95.2 779.9 -95.4 780.2 -95.7 786.9C-96 793.6 -96 806.7 -96 816.6C-96 826.5 -96 839.1 -95.4 846.3C-94.9 853.5 -94.1 855.7 -92.7 859.7C-91.3 863.7 -89.8 866.9 -86.8 870.1C-83.8 873.3 -79.9 876.5 -74.9 879C-70 881.5 -63.8 883.4 -57.1 885C-50.4 886.6 -44.3 887.8 -34.8 888.7C-25.3 889.6 -11.6 890.6 0 890.6C11.6 890.6 25.3 889.6 34.8 888.7C44.3 887.8 50.4 886.6 57.1 885C63.8 883.4 70 881.5 74.9 879C79.9 876.5 83.8 873.3 86.8 870.1C89.8 866.9 91.3 863.7 92.7 859.7C94.1 855.7 94.9 853.5 95.4 846.3C96 839.1 96 826.5 96 816.6C96 806.7 96 793.6 95.7 786.9C95.4 780.2 95.2 779.9 94.2 776.5C93.2 773.1 92.3 769.9 89.8 766.8C87.3 763.7 83.6 760.4 79.4 757.9C75.2 755.4 71.9 753.4 64.5 751.5C57.1 749.6 45.6 747.4 34.8 746.5C24.1 745.6 11.6 746 0 746Z" fill="url(#headg)" stroke="#161616" stroke-width="4.6"/>
<rect x="-65.2" y="773.6" width="128.2" height="66.2" rx="10" fill="url(#screeng)" stroke="#1d2a36" stroke-width="3.6"/>
<path d="M-14 804.7 L-3.6 816.2 L15.8 795.8" fill="none" stroke="#e6f2f7" stroke-width="9" stroke-linecap="round" stroke-linejoin="round"/>
<circle cx="-81.6" cy="821.8" r="2.3" fill="#111"/>
<circle cx="78.5" cy="818.2" r="4.8" fill="#1c1c1c"/>
<g fill="none" stroke="#141414" stroke-width="3.8" stroke-linecap="round" stroke-linejoin="round">
<path d="M-66.7 891C-70.1 891.9 -73.6 892.2 -76.8 893.7C-80 895.2 -83.2 897.6 -85.9 900.2C-88.6 902.8 -91.5 906.2 -93.2 909.3C-94.9 912.3 -95.7 915.1 -96 918.5C-96.3 921.9 -96.3 926.5 -95.1 929.5C-93.9 932.5 -91.7 935 -88.6 936.8C-85.6 938.5 -81.8 939.3 -76.8 940C-71.8 940.7 -64.8 940.8 -58.4 941C-52 941.2 -44.9 941.3 -38.2 941.4"/><path d="M67.1 889.6C71.1 891 75 891.6 79 893.7C83 895.8 87.7 898.8 90.9 902C94.1 905.2 96.7 909.3 98.2 913C99.7 916.7 100.2 920.6 100.1 924C100 927.4 99.4 930.7 97.4 933.1C95.4 935.5 92.8 937.3 88.2 938.6C83.6 939.9 76.8 940.4 69.9 941C63 941.6 52.6 941.9 47 942.3C41.3 942.7 39.7 942.9 36 943.2"/>
<path d="M-38.2 941.4C-37.5 940.5 -35.8 939.8 -36 938.6C-36.2 937.4 -37.4 935.5 -39.2 934C-40.9 932.5 -43.8 930.7 -46.5 929.5C-49.2 928.3 -52.6 927.6 -55.7 926.7" stroke="#333"/><path d="M36 943.2C36.6 941.1 36.3 938.8 37.8 936.8C39.3 934.8 42.3 932.7 45.1 931.3C47.8 929.9 51.2 929.5 54.3 928.6" stroke="#333"/>
<path d="M-25.4 945.3 H28.6" stroke-width="4"/>
</g>
<path d="M-2 699 V709" stroke="#555" stroke-width="3"/>
<ellipse cx="-2" cy="693" rx="6.8" ry="5.6" fill="#1e1e1e"/>
<ellipse cx="-2" cy="714.2" rx="11.5" ry="4.6" fill="#3c4650"/>
<ellipse cx="-1.5" cy="726.6" rx="6.4" ry="5.6" fill="#353535"/>
</g>
<g transform="translate(1521.2 0) scale(0.989 1)">
<path d="M-66.7 891C-90.7 891.7 -73.6 892.2 -76.8 893.7C-80 895.2 -83.2 897.6 -85.9 900.2C-88.6 902.8 -91.5 906.2 -93.2 909.3C-94.9 912.3 -95.7 915.1 -96 918.5C-96.3 921.9 -96.3 926.5 -95.1 929.5C-93.9 932.5 -91.7 935 -88.6 936.8C-85.6 938.5 -81.8 939.3 -76.8 940C-71.8 940.7 -64.8 940.8 -58.4 941C-52 941.2 -38.2 941.4 -38.2 941.4C-38.2 941.4 36 943.2 36 943.2C36 943.2 41.3 942.7 47 942.3C52.6 941.9 63 941.6 69.9 941C76.8 940.4 83.6 939.9 88.2 938.6C92.8 937.3 95.4 935.5 97.4 933.1C99.4 930.7 100 927.4 100.1 924C100.2 920.6 99.7 916.7 98.2 913C96.7 909.3 94.1 905.2 90.9 902C87.7 898.8 83 895.8 79 893.7C75 891.6 91.4 890.1 67.1 889.6C42.8 889.1 -42.7 890.3 -66.7 891Z" fill="#fff" fill-opacity="0.75"/>
<path d="M-94.8 787.4C-94.8 787.4 -98.9 786.6 -101.6 787.4C-104.3 788.2 -108.5 790 -111.1 792.2C-113.7 794.4 -115.8 796.3 -117.2 800.4C-118.6 804.5 -119.3 811.3 -119.3 816.7C-119.3 822.1 -118.6 828.7 -117.2 833C-115.8 837.3 -113.7 840.1 -111.1 842.6C-108.5 845.1 -104.3 847.1 -101.6 848C-98.9 848.9 -94.8 848 -94.8 848C-94.8 848 -94.8 787.4 -94.8 787.4Z" fill="url(#earg)" stroke="#222a33" stroke-width="4" stroke-linejoin="round"/>
<path d="M94.8 786.5C94.8 786.5 98.9 785.7 101.6 786.5C104.3 787.3 108.5 789.2 111.1 791.5C113.7 793.8 115.8 795.8 117.2 800C118.6 804.2 119.3 811.2 119.3 816.7C119.3 822.2 118.6 828.7 117.2 833C115.8 837.3 113.7 840.1 111.1 842.6C108.5 845.1 104.3 847.1 101.6 848C98.9 848.9 94.8 848 94.8 848C94.8 848 94.8 786.5 94.8 786.5Z" fill="url(#earg)" stroke="#222a33" stroke-width="4" stroke-linejoin="round"/>
<path d="M0 746C-11.6 746 -24.1 745.6 -34.8 746.5C-45.6 747.4 -57.1 749.6 -64.5 751.5C-71.9 753.4 -75.2 755.4 -79.4 757.9C-83.6 760.4 -87.3 763.7 -89.8 766.8C-92.3 769.9 -93.2 773.1 -94.2 776.5C-95.2 779.9 -95.4 780.2 -95.7 786.9C-96 793.6 -96 806.7 -96 816.6C-96 826.5 -96 839.1 -95.4 846.3C-94.9 853.5 -94.1 855.7 -92.7 859.7C-91.3 863.7 -89.8 866.9 -86.8 870.1C-83.8 873.3 -79.9 876.5 -74.9 879C-70 881.5 -63.8 883.4 -57.1 885C-50.4 886.6 -44.3 887.8 -34.8 888.7C-25.3 889.6 -11.6 890.6 0 890.6C11.6 890.6 25.3 889.6 34.8 888.7C44.3 887.8 50.4 886.6 57.1 885C63.8 883.4 70 881.5 74.9 879C79.9 876.5 83.8 873.3 86.8 870.1C89.8 866.9 91.3 863.7 92.7 859.7C94.1 855.7 94.9 853.5 95.4 846.3C96 839.1 96 826.5 96 816.6C96 806.7 96 793.6 95.7 786.9C95.4 780.2 95.2 779.9 94.2 776.5C93.2 773.1 92.3 769.9 89.8 766.8C87.3 763.7 83.6 760.4 79.4 757.9C75.2 755.4 71.9 753.4 64.5 751.5C57.1 749.6 45.6 747.4 34.8 746.5C24.1 745.6 11.6 746 0 746Z" fill="url(#headg)" stroke="#161616" stroke-width="4.6"/>
<rect x="-65.2" y="773.6" width="128.2" height="66.2" rx="10" fill="url(#screeng)" stroke="#1d2a36" stroke-width="3.6"/>
<path d="M-14 804.7 L-3.6 816.2 L15.8 795.8" fill="none" stroke="#e6f2f7" stroke-width="9" stroke-linecap="round" stroke-linejoin="round"/>
<circle cx="-81.6" cy="821.8" r="2.3" fill="#111"/>
<circle cx="78.5" cy="818.2" r="4.8" fill="#1c1c1c"/>
<g fill="none" stroke="#141414" stroke-width="3.8" stroke-linecap="round" stroke-linejoin="round">
<path d="M-66.7 891C-70.1 891.9 -73.6 892.2 -76.8 893.7C-80 895.2 -83.2 897.6 -85.9 900.2C-88.6 902.8 -91.5 906.2 -93.2 909.3C-94.9 912.3 -95.7 915.1 -96 918.5C-96.3 921.9 -96.3 926.5 -95.1 929.5C-93.9 932.5 -91.7 935 -88.6 936.8C-85.6 938.5 -81.8 939.3 -76.8 940C-71.8 940.7 -64.8 940.8 -58.4 941C-52 941.2 -44.9 941.3 -38.2 941.4"/><path d="M67.1 889.6C71.1 891 75 891.6 79 893.7C83 895.8 87.7 898.8 90.9 902C94.1 905.2 96.7 909.3 98.2 913C99.7 916.7 100.2 920.6 100.1 924C100 927.4 99.4 930.7 97.4 933.1C95.4 935.5 92.8 937.3 88.2 938.6C83.6 939.9 76.8 940.4 69.9 941C63 941.6 52.6 941.9 47 942.3C41.3 942.7 39.7 942.9 36 943.2"/>
<path d="M-38.2 941.4C-37.5 940.5 -35.8 939.8 -36 938.6C-36.2 937.4 -37.4 935.5 -39.2 934C-40.9 932.5 -43.8 930.7 -46.5 929.5C-49.2 928.3 -52.6 927.6 -55.7 926.7" stroke="#333"/><path d="M36 943.2C36.6 941.1 36.3 938.8 37.8 936.8C39.3 934.8 42.3 932.7 45.1 931.3C47.8 929.9 51.2 929.5 54.3 928.6" stroke="#333"/>
<path d="M-25.4 945.3 H28.6" stroke-width="4"/>
</g>
<path d="M-2 699 V709" stroke="#555" stroke-width="3"/>
<ellipse cx="-2" cy="693" rx="6.8" ry="5.6" fill="#1e1e1e"/>
<ellipse cx="-2" cy="714.2" rx="11.5" ry="4.6" fill="#3c4650"/>
<ellipse cx="-1.5" cy="726.6" rx="6.4" ry="5.6" fill="#353535"/>
</g>

<!-- side arrows -->
<g stroke="#111" stroke-width="8" stroke-linecap="round" stroke-linejoin="round" fill="none">
<path d="M823.5 813.5 L658 813.8"/><path d="M690 792.5 L654.8 814 L692 836" stroke-width="8.3"/>
<path d="M1319 814 L1181 814.4"/><path d="M1211.5 792.5 L1177.8 814.6 L1212.5 835.5" stroke-width="8.3"/>
</g>
<g stroke-linecap="round" fill="none">
<path d="M839.9 784.9 L891.9 839.4 M889.4 785.5 L839.2 839.4 M1331 785.6 L1383 839 M1383.8 785 L1330 839.8" stroke="#f5a5a5" stroke-width="14" filter="url(#blur2)" opacity="0.8"/>
<path d="M839.9 784.9 L891.9 839.4 M889.4 785.5 L839.2 839.4 M1331 785.6 L1383 839 M1383.8 785 L1330 839.8" stroke="#b83030" stroke-width="7"/>
<path d="M839.9 784.9 L891.9 839.4 M889.4 785.5 L839.2 839.4 M1331 785.6 L1383 839 M1383.8 785 L1330 839.8" stroke="#d33c3c" stroke-width="3.5"/>
</g>

<!-- LLM boxes -->
<g fill="url(#boxg)" stroke="#c9dbe9" stroke-width="1.5">
<rect x="331" y="980" width="332" height="200"/>
<rect x="863" y="979" width="332" height="202"/>
<rect x="1352" y="979" width="330" height="202"/>
</g>

<!-- green arrow -->
<g stroke-linecap="round" stroke-linejoin="round" fill="none">
<g stroke="#c6f2bd" stroke-width="17" filter="url(#blur2)" opacity="0.9">
<path d="M1599 178 C1711.6 203.1 1854 283.9 1859.5 413"/><path d="M1599.5 175.5C1607.9 172.9 1616.3 170.3 1624.6 167.7C1632.9 165.1 1641 162.5 1649.4 159.8C1657.8 157.1 1666.6 154.2 1675.2 151.4"/><path d="M1599.5 179.5C1604.6 185.8 1609.7 191.8 1614.7 198.4C1619.7 205 1624.4 211.5 1629.6 219.2C1634.8 226.9 1640.5 236.1 1646 244.5"/>
</g>
<g stroke="#2f8f40" stroke-width="9.8">
<path d="M1599 178 C1711.6 203.1 1854 283.9 1859.5 413"/><path d="M1599.5 175.5C1607.9 172.9 1616.3 170.3 1624.6 167.7C1632.9 165.1 1641 162.5 1649.4 159.8C1657.8 157.1 1666.6 154.2 1675.2 151.4"/><path d="M1599.5 179.5C1604.6 185.8 1609.7 191.8 1614.7 198.4C1619.7 205 1624.4 211.5 1629.6 219.2C1634.8 226.9 1640.5 236.1 1646 244.5"/>
</g>
<g stroke="#46ad55" stroke-width="6.5">
<path d="M1599 178 C1711.6 203.1 1854 283.9 1859.5 413"/><path d="M1599.5 175.5C1607.9 172.9 1616.3 170.3 1624.6 167.7C1632.9 165.1 1641 162.5 1649.4 159.8C1657.8 157.1 1666.6 154.2 1675.2 151.4"/><path d="M1599.5 179.5C1604.6 185.8 1609.7 191.8 1614.7 198.4C1619.7 205 1624.4 211.5 1629.6 219.2C1634.8 226.9 1640.5 236.1 1646 244.5"/>
</g></g>

<!-- feedback bubble -->
<path d="M1847 729.4C1847 729.4 1835.6 727.9 1829.9 727.1C1824.2 726.2 1818.7 725.3 1812.9 724.1C1807.1 722.9 1801.2 721.6 1795.2 719.9C1789.2 718.2 1783 716.3 1776.9 714C1770.7 711.7 1764.4 709.1 1758.3 706C1752.2 703 1746 699.6 1740.1 695.6C1734.2 691.7 1728.4 687.3 1723 682.5C1717.6 677.7 1712.5 672.4 1708 666.7C1703.4 661 1699.3 654.8 1695.8 648.4C1692.4 641.9 1689.5 635 1687.4 628.1C1685.3 621.1 1683.8 613.8 1683.1 606.5C1682.5 599.3 1682.5 591.8 1683.3 584.5C1684 577.3 1685.6 570 1687.7 563C1689.8 556 1692.6 549.1 1695.9 542.6C1699.1 536.1 1703 529.9 1707.2 524C1711.4 518.2 1716.1 512.6 1721 507.5C1725.9 502.4 1731.1 497.7 1736.5 493.3C1741.8 488.9 1747.4 484.9 1753 481.3C1758.5 477.6 1764.3 474.4 1770 471.4C1775.7 468.5 1781.4 465.9 1787.1 463.5C1792.8 461.2 1798.5 459.2 1804.1 457.4C1809.8 455.6 1815.4 454.1 1820.9 452.8C1826.4 451.6 1831.8 450.5 1837.2 449.7C1842.6 448.8 1847.8 448.2 1853 447.7C1858.2 447.2 1863.4 446.9 1868.4 446.6C1873.5 446.4 1878.4 446.3 1883.3 446.2C1888.2 446.2 1893.1 446.2 1897.9 446.3C1902.7 446.3 1907.5 446.5 1912.3 446.6C1917.1 446.7 1921.8 446.9 1926.7 447.1C1931.5 447.3 1936.4 447.5 1941.3 447.8C1946.2 448.2 1951.2 448.5 1956.3 449C1961.4 449.5 1966.6 450 1971.9 450.8C1977.1 451.5 1982.5 452.4 1987.9 453.5C1993.3 454.6 1998.9 456 2004.4 457.6C2009.9 459.2 2015.6 461 2021.1 463.2C2026.7 465.4 2032.4 467.9 2037.9 470.7C2043.5 473.5 2049.1 476.6 2054.5 480.1C2059.9 483.6 2065.3 487.4 2070.5 491.6C2075.7 495.8 2080.8 500.4 2085.6 505.3C2090.4 510.1 2095.1 515.4 2099.4 521C2103.7 526.6 2107.8 532.5 2111.4 538.7C2115 544.9 2118.3 551.5 2121 558.2C2123.7 565 2125.9 572 2127.6 579.1C2129.2 586.3 2130.3 593.7 2130.6 601C2131 608.3 2130.7 615.8 2129.7 623C2128.7 630.2 2126.9 637.5 2124.5 644.4C2122.1 651.3 2118.9 658.1 2115.2 664.4C2111.4 670.6 2106.9 676.6 2102 682.1C2097.1 687.5 2091.6 692.5 2085.8 696.9C2080 701.4 2073.6 705.3 2067.3 708.7C2060.9 712 2054.2 714.8 2047.6 717.2C2040.9 719.6 2034.2 721.4 2027.6 722.9C2021 724.4 2014.4 725.4 2008.1 726.3C2001.7 727.1 1995.5 727.6 1989.6 728C1983.6 728.4 1977.9 728.6 1972.3 728.8C1966.8 729 1961.4 729 1956.2 729.1C1951 729.2 1946 729.3 1941.1 729.4C1936.2 729.5 1931.4 729.7 1926.6 729.8C1921.9 730 1917.4 730.1 1912.5 730.3C1907.6 730.5 1897.2 731.1 1897.2 731.1C1897.2 731.1 1896.5 738.9 1896.9 743.6C1897.3 748.4 1898.1 754 1899.7 759.8C1901.2 765.7 1903.5 772.4 1906.4 778.6C1909.3 784.9 1913.1 791.9 1917.2 797.5C1921.2 803.1 1926.1 808 1930.6 812.2C1935.1 816.5 1940.5 821 1944 823C1947.6 825 1952 824.3 1952 824.3C1952 824.3 1946.1 823.5 1941.8 822.1C1937.5 820.6 1932.1 818.2 1926.2 815.6C1920.3 813 1913.5 810.4 1906.5 806.5C1899.5 802.5 1890.5 797.1 1884.2 792.1C1878 787.2 1873.1 782.2 1868.8 776.6C1864.5 771 1861.2 764.1 1858.4 758.4C1855.6 752.8 1853.8 747.5 1851.9 742.7C1850 737.9 1847 729.4 1847 729.4Z" fill="none" stroke="#fff2b0" stroke-width="12" filter="url(#blur2)"/>
<path d="M1847 729.4C1847 729.4 1835.6 727.9 1829.9 727.1C1824.2 726.2 1818.7 725.3 1812.9 724.1C1807.1 722.9 1801.2 721.6 1795.2 719.9C1789.2 718.2 1783 716.3 1776.9 714C1770.7 711.7 1764.4 709.1 1758.3 706C1752.2 703 1746 699.6 1740.1 695.6C1734.2 691.7 1728.4 687.3 1723 682.5C1717.6 677.7 1712.5 672.4 1708 666.7C1703.4 661 1699.3 654.8 1695.8 648.4C1692.4 641.9 1689.5 635 1687.4 628.1C1685.3 621.1 1683.8 613.8 1683.1 606.5C1682.5 599.3 1682.5 591.8 1683.3 584.5C1684 577.3 1685.6 570 1687.7 563C1689.8 556 1692.6 549.1 1695.9 542.6C1699.1 536.1 1703 529.9 1707.2 524C1711.4 518.2 1716.1 512.6 1721 507.5C1725.9 502.4 1731.1 497.7 1736.5 493.3C1741.8 488.9 1747.4 484.9 1753 481.3C1758.5 477.6 1764.3 474.4 1770 471.4C1775.7 468.5 1781.4 465.9 1787.1 463.5C1792.8 461.2 1798.5 459.2 1804.1 457.4C1809.8 455.6 1815.4 454.1 1820.9 452.8C1826.4 451.6 1831.8 450.5 1837.2 449.7C1842.6 448.8 1847.8 448.2 1853 447.7C1858.2 447.2 1863.4 446.9 1868.4 446.6C1873.5 446.4 1878.4 446.3 1883.3 446.2C1888.2 446.2 1893.1 446.2 1897.9 446.3C1902.7 446.3 1907.5 446.5 1912.3 446.6C1917.1 446.7 1921.8 446.9 1926.7 447.1C1931.5 447.3 1936.4 447.5 1941.3 447.8C1946.2 448.2 1951.2 448.5 1956.3 449C1961.4 449.5 1966.6 450 1971.9 450.8C1977.1 451.5 1982.5 452.4 1987.9 453.5C1993.3 454.6 1998.9 456 2004.4 457.6C2009.9 459.2 2015.6 461 2021.1 463.2C2026.7 465.4 2032.4 467.9 2037.9 470.7C2043.5 473.5 2049.1 476.6 2054.5 480.1C2059.9 483.6 2065.3 487.4 2070.5 491.6C2075.7 495.8 2080.8 500.4 2085.6 505.3C2090.4 510.1 2095.1 515.4 2099.4 521C2103.7 526.6 2107.8 532.5 2111.4 538.7C2115 544.9 2118.3 551.5 2121 558.2C2123.7 565 2125.9 572 2127.6 579.1C2129.2 586.3 2130.3 593.7 2130.6 601C2131 608.3 2130.7 615.8 2129.7 623C2128.7 630.2 2126.9 637.5 2124.5 644.4C2122.1 651.3 2118.9 658.1 2115.2 664.4C2111.4 670.6 2106.9 676.6 2102 682.1C2097.1 687.5 2091.6 692.5 2085.8 696.9C2080 701.4 2073.6 705.3 2067.3 708.7C2060.9 712 2054.2 714.8 2047.6 717.2C2040.9 719.6 2034.2 721.4 2027.6 722.9C2021 724.4 2014.4 725.4 2008.1 726.3C2001.7 727.1 1995.5 727.6 1989.6 728C1983.6 728.4 1977.9 728.6 1972.3 728.8C1966.8 729 1961.4 729 1956.2 729.1C1951 729.2 1946 729.3 1941.1 729.4C1936.2 729.5 1931.4 729.7 1926.6 729.8C1921.9 730 1917.4 730.1 1912.5 730.3C1907.6 730.5 1897.2 731.1 1897.2 731.1C1897.2 731.1 1896.5 738.9 1896.9 743.6C1897.3 748.4 1898.1 754 1899.7 759.8C1901.2 765.7 1903.5 772.4 1906.4 778.6C1909.3 784.9 1913.1 791.9 1917.2 797.5C1921.2 803.1 1926.1 808 1930.6 812.2C1935.1 816.5 1940.5 821 1944 823C1947.6 825 1952 824.3 1952 824.3C1952 824.3 1946.1 823.5 1941.8 822.1C1937.5 820.6 1932.1 818.2 1926.2 815.6C1920.3 813 1913.5 810.4 1906.5 806.5C1899.5 802.5 1890.5 797.1 1884.2 792.1C1878 787.2 1873.1 782.2 1868.8 776.6C1864.5 771 1861.2 764.1 1858.4 758.4C1855.6 752.8 1853.8 747.5 1851.9 742.7C1850 737.9 1847 729.4 1847 729.4Z" fill="#fadf7c" stroke="#dcb541" stroke-width="4"/>

<!-- person -->
<path d="M2023.3 892.7C2023.3 892.7 2015.6 889 2011.5 885.2C2007.4 881.5 2002.5 876.3 1998.6 870.2C1994.7 864.1 1990.4 856.2 1987.9 848.7C1985.4 841.2 1983.6 832.6 1983.6 825.1C1983.6 817.6 1984.7 810.9 1987.9 803.7C1991.1 796.6 1996.8 788.3 2002.9 782.2C2009 776.1 2016.5 770.4 2024.4 767.2C2032.3 764 2041.2 762.5 2050.1 762.9C2059 763.2 2070.1 765.4 2078 769.3C2085.9 773.2 2092 779.7 2097.4 786.5C2102.8 793.3 2107.7 802.6 2110.2 810.1C2112.7 817.6 2112.8 824.5 2112.4 831.6C2112.1 838.8 2110.6 845.9 2108.1 853C2105.6 860.1 2101.7 868.8 2097.4 874.5C2093.1 880.2 2087.1 884.4 2082.3 887.4C2077.5 890.4 2068.4 892.7 2068.4 892.7C2068.4 892.7 2069.5 911 2069.5 911C2069.5 911 2084.8 916 2093 919.6C2101.2 923.2 2110.6 927.8 2118.8 932.4C2127 937 2136.3 942.1 2142.4 947.5C2148.5 952.9 2151.7 958.2 2155.3 964.6C2158.9 971 2161.8 978.4 2163.9 986C2166 993.6 2166.8 999.3 2168 1010C2169.2 1020.7 2170.3 1019.2 2171 1050C2171.7 1080.8 2172 1195 2172 1195C2172 1195 2172 1216 2172 1216C2172 1216 1966 1216 1966 1216C1966 1216 1966 1010 1966 1010C1966 1010 1965 974.5 1965 974.5C1965 974.5 1950.6 977.5 1940.3 980.1C1930 982.7 1913.4 987.5 1903 990C1892.6 992.5 1884.6 994.6 1878 995C1871.4 995.4 1871.7 997 1863.5 992.5C1855.3 988 1838.7 974.5 1828.8 967.7C1818.9 960.9 1813.9 957.6 1804 951.6C1794.1 945.6 1777.7 936.1 1769.4 931.8C1761.2 927.5 1759.9 928.1 1754.5 925.6C1749.1 923.1 1741.2 920 1737.2 917C1733.2 914 1732.8 911 1730.2 907.5C1727.6 904 1724.2 899.8 1721.6 896C1718.9 892.2 1715.2 887.9 1714.3 884.5C1713.4 881.1 1714.3 877.5 1716 875.5C1717.7 873.5 1721.3 871.9 1724.6 872.4C1727.9 872.9 1731 876 1736 878.6C1741 881.2 1750.6 885.8 1754.5 887.9C1758.4 890 1759.5 891 1759.5 891C1759.5 891 1757.1 883.5 1757 881C1756.9 878.5 1757.5 876.9 1759 876.3C1760.5 875.7 1763.2 875.7 1765.7 877.3C1768.2 878.9 1771.6 883.3 1774.3 886C1777 888.7 1779.3 891.1 1781.8 893.4C1784.3 895.7 1783.4 895.7 1789.2 899.6C1795 903.5 1805.8 910.6 1816.5 917C1827.2 923.4 1843.3 932.9 1853.6 938C1863.9 943.1 1878.4 947.9 1878.4 947.9C1878.4 947.9 1903.1 939.8 1915.5 935.5C1927.9 931.2 1941.1 925.8 1952.7 921.9C1964.3 918 1973.2 914.2 1985 912C1996.8 909.8 2023.3 908.8 2023.3 908.8C2023.3 908.8 2023.3 892.7 2023.3 892.7Z" fill="#95c3e9" stroke="#2b5a92" stroke-width="4.5" stroke-linejoin="round"/>
<path d="M2123 1003 L2127 1198" stroke="#2b5a92" stroke-width="4.5" fill="none" stroke-linecap="round"/>

<!-- texts -->
<g style="font-size:105.35px;fill:#111;stroke:#111;stroke-width:2.0;stroke-linejoin:round;"><text transform="translate(1082.87 186.66) scale(0.8565 1)">C</text><text transform="translate(1150.08 186.66) scale(0.8385 1)">o</text><text transform="translate(1202.64 186.66) scale(0.8936 1)">n</text><text transform="translate(1260.6 186.66) scale(1.1 1)">f</text><text transform="translate(1298.15 186.66)">l</text><text transform="translate(1323.35 186.66)">i</text><text transform="translate(1349.12 186.66) scale(0.8957 1)">c</text><text transform="translate(1406.3 186.66) scale(1.1 1)">t</text></g>
<g style="font-size:65.41px;fill:#111;stroke:#111;stroke-width:1.8;stroke-linejoin:round;"><text transform="translate(346.85 621.56)">I</text><text transform="translate(389.15 621.56) scale(1.1 1)">t</text><text transform="translate(415.4 621.56) scale(0.9759 1)">h</text><text transform="translate(452.1 621.56)">i</text><text transform="translate(468.22 621.56) scale(0.7933 1)">n</text><text transform="translate(501.98 621.56) scale(0.931 1)">k</text><text transform="translate(555.05 621.56) scale(0.9524 1)">X</text><text transform="translate(598.95 621.56)">.</text><text transform="translate(615.15 621.56)">.</text><text transform="translate(632.0 621.56)">.</text></g>
<g style="font-size:86.43px;fill:#111;stroke:#111;stroke-width:1.0;stroke-linejoin:round;"><text transform="translate(1735.79 619.75) scale(0.9581 1)">F</text><text transform="translate(1786.06 619.75) scale(0.8476 1)">e</text><text transform="translate(1827.36 619.75) scale(0.8119 1)">e</text><text transform="translate(1867.27 619.75) scale(0.8775 1)">d</text><text transform="translate(1911.09 619.75) scale(0.8625 1)">b</text><text transform="translate(1954.58 619.75) scale(0.8065 1)">a</text><text transform="translate(1996.64 619.75) scale(0.8868 1)">c</text><text transform="translate(2036.48 619.75) scale(0.8846 1)">k</text></g>
<g style="font-size:82.79px;fill:#1b2028;stroke:#1b2028;stroke-width:1.4;stroke-linejoin:round;"><text transform="translate(422.88 1061.22) scale(0.9026 1)">L</text><text transform="translate(465.88 1061.22) scale(0.9026 1)">L</text><text transform="translate(505.63 1061.22) scale(0.9947 1)">M</text></g>
<g style="font-size:84.87px;fill:#1b2028;stroke:#1b2028;stroke-width:1.4;stroke-linejoin:round;"><text transform="translate(394.8 1145.66) scale(0.8632 1)">A</text><text transform="translate(447.11 1145.66) scale(0.8641 1)">g</text><text transform="translate(490.04 1145.66) scale(0.7537 1)">e</text><text transform="translate(529.26 1145.66) scale(0.8486 1)">n</text><text transform="translate(572.75 1145.66) scale(1.1 1)">t</text></g>
<g style="font-size:65.41px;fill:#111;stroke:#111;stroke-width:1.8;stroke-linejoin:round;"><text transform="translate(885.55 621.56)">I</text><text transform="translate(927.85 621.56) scale(1.1 1)">t</text><text transform="translate(954.1 621.56) scale(0.9759 1)">h</text><text transform="translate(990.8 621.56)">i</text><text transform="translate(1006.92 621.56) scale(0.7933 1)">n</text><text transform="translate(1040.68 621.56) scale(0.931 1)">k</text><text transform="translate(1088.41 621.56) scale(0.8881 1)">Y</text><text transform="translate(1129.0 621.56)">.</text><text transform="translate(1145.25 621.56)">.</text><text transform="translate(1161.5 621.56)">.</text></g>
<g style="font-size:65.41px;fill:#111;stroke:#111;stroke-width:1.8;stroke-linejoin:round;"><text transform="translate(1361.65 621.56)">I</text><text transform="translate(1403.95 621.56) scale(1.1 1)">t</text><text transform="translate(1430.2 621.56) scale(0.9759 1)">h</text><text transform="translate(1466.9 621.56)">i</text><text transform="translate(1483.02 621.56) scale(0.7933 1)">n</text><text transform="translate(1516.78 621.56) scale(0.931 1)">k</text><text transform="translate(1570.44 621.56) scale(0.9579 1)">Z</text><text transform="translate(1609.2 621.56)">.</text><text transform="translate(1625.25 621.56)">.</text><text transform="translate(1641.35 621.56)">.</text></g>
<g style="font-size:82.79px;fill:#1b2028;stroke:#1b2028;stroke-width:1.4;stroke-linejoin:round;"><text transform="translate(952.98 1061.22) scale(0.9026 1)">L</text><text transform="translate(995.98 1061.22) scale(0.9026 1)">L</text><text transform="translate(1035.73 1061.22) scale(0.9947 1)">M</text></g>
<g style="font-size:82.79px;fill:#1b2028;stroke:#1b2028;stroke-width:1.4;stroke-linejoin:round;"><text transform="translate(1440.98 1061.22) scale(0.9026 1)">L</text><text transform="translate(1483.98 1061.22) scale(0.9026 1)">L</text><text transform="translate(1523.73 1061.22) scale(0.9947 1)">M</text></g>
<g style="font-size:84.87px;fill:#1b2028;stroke:#1b2028;stroke-width:1.4;stroke-linejoin:round;"><text transform="translate(924.3 1145.66) scale(0.8632 1)">A</text><text transform="translate(976.61 1145.66) scale(0.8641 1)">g</text><text transform="translate(1019.54 1145.66) scale(0.7537 1)">e</text><text transform="translate(1058.76 1145.66) scale(0.8486 1)">n</text><text transform="translate(1102.25 1145.66) scale(1.1 1)">t</text></g>
<g style="font-size:84.87px;fill:#1b2028;stroke:#1b2028;stroke-width:1.4;stroke-linejoin:round;"><text transform="translate(1412.4 1145.66) scale(0.8632 1)">A</text><text transform="translate(1464.71 1145.66) scale(0.8641 1)">g</text><text transform="translate(1507.64 1145.66) scale(0.7537 1)">e</text><text transform="translate(1546.86 1145.66) scale(0.8486 1)">n</text><text transform="translate(1590.35 1145.66) scale(1.1 1)">t</text></g>
</svg>
</body></html>
